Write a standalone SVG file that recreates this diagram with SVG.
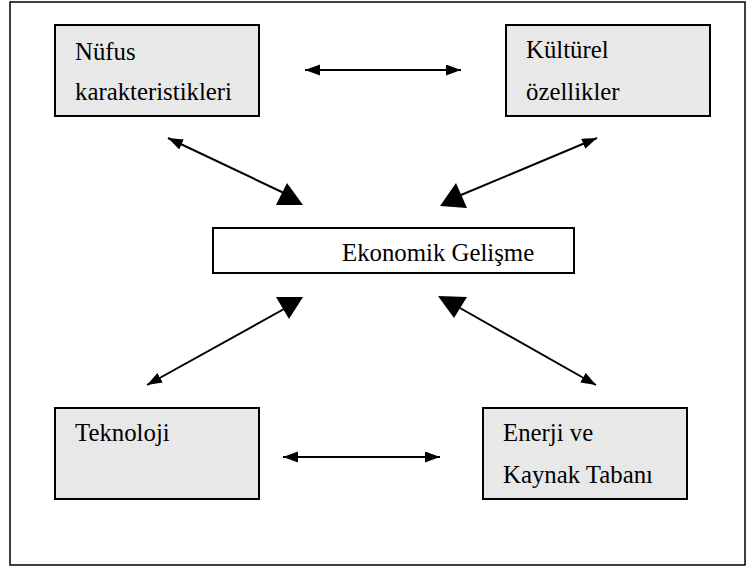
<svg xmlns="http://www.w3.org/2000/svg" width="748" height="567" viewBox="0 0 748 567">
<style>
.frame{fill:#fff;stroke:#000;stroke-width:1.5}
.box{fill:#e8e8e8;stroke:#000;stroke-width:2}
.main{fill:#fff;stroke:#000;stroke-width:2}
.t{font-family:'Liberation Serif','Times New Roman','DejaVu Serif',serif;font-size:24.8px;fill:#000}
.c{stroke:#000;stroke-width:2;fill:none}
.head{fill:#000;stroke:none}
</style>
<defs>
<marker id="ah" markerUnits="userSpaceOnUse" markerWidth="16" markerHeight="12" refX="15" refY="5.5" orient="auto-start-reverse" viewBox="0 0 16 12">
<path d="M0,0 L15,5.5 L0,11 z" fill="#000"/>
</marker>
</defs>
<rect class="frame" x="10" y="2" width="735" height="563"/>
<g id="nufus">
<rect class="box" x="55" y="25" width="204" height="91"/>
<text class="t" x="75" y="60">Nüfus</text>
<text class="t" x="75" y="100">karakteristikleri</text>
</g>
<g id="kulturel">
<rect class="box" x="506" y="25" width="204" height="91"/>
<text class="t" x="526" y="58">Kültürel</text>
<text class="t" x="526" y="100">özellikler</text>
</g>
<g id="ekonomik">
<rect class="main" x="213" y="228" width="361" height="45"/>
<text class="t" x="342" y="261">Ekonomik Gelişme</text>
</g>
<g id="teknoloji">
<rect class="box" x="55" y="408" width="204" height="91"/>
<text class="t" x="75" y="441">Teknoloji</text>
</g>
<g id="enerji">
<rect class="box" x="483" y="408" width="204" height="91"/>
<text class="t" x="503" y="441">Enerji ve</text>
<text class="t" x="503" y="483">Kaynak Tabanı</text>
</g>
<g id="connectors">
<line class="c" x1="305" y1="70" x2="461" y2="70" marker-start="url(#ah)" marker-end="url(#ah)"/>
<line class="c" x1="283" y1="457" x2="440" y2="457" marker-start="url(#ah)" marker-end="url(#ah)"/>
<line class="c" x1="168" y1="138" x2="284" y2="193" marker-start="url(#ah)"/>
<polygon class="head" points="287,183 303,205 276,205"/>
<line class="c" x1="597" y1="138" x2="461" y2="195" marker-start="url(#ah)"/>
<polygon class="head" points="456,183 467,208 440,206"/>
<line class="c" x1="147" y1="385" x2="284" y2="309" marker-start="url(#ah)"/>
<polygon class="head" points="276,297 303,297 289,319"/>
<line class="c" x1="596" y1="385" x2="460" y2="308" marker-start="url(#ah)"/>
<polygon class="head" points="438,296 467,297 454,318"/>
</g>
</svg>
